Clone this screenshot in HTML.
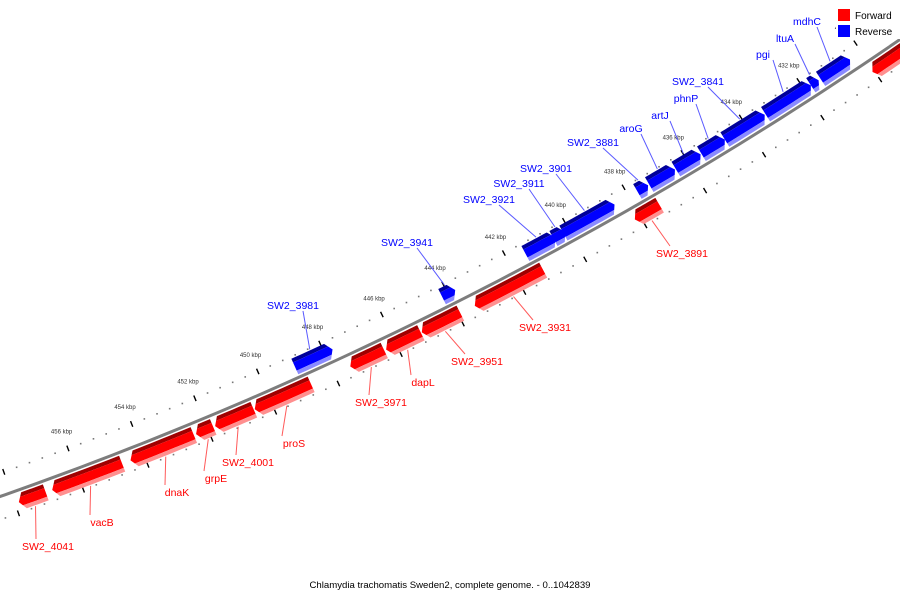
<!DOCTYPE html>
<html><head><meta charset="utf-8"><style>
html,body{margin:0;padding:0;background:#fff;}
svg{display:block;font-family:"Liberation Sans","DejaVu Sans",sans-serif;}
</style></head><body>
<svg id="map" width="900" height="600" viewBox="0 0 900 600" xmlns="http://www.w3.org/2000/svg">
<rect width="900" height="600" fill="#fff"/>
<g id="ticks"></g>
<g id="backbone"></g>
<g id="genes"></g>
<g id="labels"></g>
<g>
<rect x="836" y="7" width="64" height="32" fill="#fff"/>
<g>
<rect x="838" y="9" width="12" height="12" fill="#ff0000"/>
<text x="855" y="19" font-size="10" fill="#000">Forward</text>
</g>
<g>
<rect x="838" y="25" width="12" height="12" fill="#0000ff"/>
<text x="855" y="35" font-size="10" fill="#000">Reverse</text>
</g>
</g>
<text x="450" y="588" font-size="9.6" text-anchor="middle" fill="#000">Chlamydia trachomatis Sweden2, complete genome. - 0..1042839</text>
</svg>
<script>
// ---- data (kbp) ----
const fwdNames = ["SW2_4041","vacB","dnaK","grpE","SW2_4001","proS","SW2_3971","dapL","SW2_3951","SW2_3931","SW2_3891",""];
const fwdStart = [457.05,454.68,452.44,451.83,450.55,448.73,446.39,445.21,443.93,441.22,437.35,428.0];
const fwdEnd   = [457.88,456.85,454.42,452.37,451.77,450.52,447.48,446.33,445.18,443.46,438.18,430.06];
const revNames = ["SW2_3981","SW2_3941","SW2_3921","SW2_3911","SW2_3901","SW2_3881","aroG","artJ","phnP","SW2_3841","pgi","ltuA","mdhC"];
const revStart = [447.74,443.76,440.45,440.12,438.48,437.35,436.44,435.57,434.74,433.37,431.77,431.50,430.40];
const revEnd   = [448.95,444.19,441.45,440.52,440.19,437.71,437.31,436.41,435.54,434.74,433.34,431.77,431.43];
const tickLabelKbp = [456,454,452,450,448,446,444,442,440,438,436,434,432,430];

// ---- layout (pixel positions of label text: x, baseline y) ----
const fwdLabelPos = [[48,550],[102,526],[177,496],[216,482],[248,466],[294,447],[381,406],[423,386],[477,365],[545,331],[682,257],null];
const revLabelPos = [[293,309],[407,246],[489,203],[519,187],[546,172],[593,146],[631,132],[660,119],[686,102],[698,85],[763,58],[785,42],[807,25]];

const NS="http://www.w3.org/2000/svg";
const cx=-1265, cy=-3109, R=3821;
function ang(k){return (69.46+(k-456)*0.515)*Math.PI/180;}
function pt(k,r){const a=ang(k);return [cx+r*Math.cos(a), cy+r*Math.sin(a)];}
function arc(k1,k2,r,n){const o=[];for(let i=0;i<=n;i++){o.push(pt(k1+(k2-k1)*i/n,r));}return o;}
function poly(points){return points.map(p=>p[0].toFixed(2)+","+p[1].toFixed(2)).join(" ");}
function mk(tag,attrs,parent){const e=document.createElementNS(NS,tag);for(const k in attrs)e.setAttribute(k,attrs[k]);parent.appendChild(e);return e;}

// ticks
const tg=document.getElementById('ticks');
for(let i=0;i<=85;i++){
  const k=426+i*0.4;
  const kr=Math.round(k*10)/10;
  const major=Math.abs(kr/2-Math.round(kr/2))<1e-6;
  [R-22,R+22].forEach(r=>{
    if(major){
      const a=pt(kr,r-3),b=pt(kr,r+3);
      const l=mk('line',{x1:a[0],y1:a[1],x2:b[0],y2:b[1],stroke:'#000','stroke-width':1.4},tg);
      
      
    }else{
      const p=pt(kr,r);
      const d=mk('rect',{x:p[0]-0.8,y:p[1]-0.8,width:1.6,height:1.6,fill:'#777'},tg);
      
      
    }
  });
}
tickLabelKbp.forEach(k=>{
  const p=pt(k,R-40);
  const t=mk('text',{x:p[0],y:p[1]+2,'font-size':6,'text-anchor':'middle',fill:'#333'},tg);
  t.textContent=k+" kbp";
  
  
});

// backbone
const bb=document.getElementById('backbone');
const bp=mk('polyline',{points:poly(arc(462,424,R,80)),fill:'none',stroke:'#7d7d7d','stroke-width':3},bb);



// genes
const gg=document.getElementById('genes');
const lg=document.getElementById('labels');
let gid=0;
function drawGene(s,e,forward,name,lp){
  const r1=forward?R+3:R-20, r2=forward?R+20:R-3, rm=(r1+r2)/2;
  const len=e-s, d=Math.min(0.16,len*0.5);
  let shape;
  if(forward){ // points to higher kbp
    shape=arc(s,e-d,r1,8).concat([pt(e,rm)]).concat(arc(e-d,s,r2,8));
  }else{ // points to lower kbp
    shape=arc(e,s+d,r1,8).concat([pt(s,rm)]).concat(arc(s+d,e,r2,8));
  }
  const id='c'+(gid++);
  const cp=mk('clipPath',{id:id},gg);
  mk('polygon',{points:poly(shape)},cp);
  const g=mk('g',{'clip-path':'url(#'+id+')'},gg);
  
  
  const inner=Math.min(r1,r2);
  const cols=forward?['#a00000','#ff0000','#ff8f8f']:['#00009a','#0000ff','#8a8aff'];
  const bands=[[inner-1,inner+4],[inner+4,inner+13],[inner+13,inner+18]];
  bands.forEach((b,i)=>{
    const pts=arc(s-0.2,e+0.2,b[0],8).concat(arc(e+0.2,s-0.2,b[1],8));
    const p=mk('polygon',{points:poly(pts),fill:cols[i]},g);
    
    
  });
  if(name&&lp){
    const mid=(s+e)/2;
    const a=pt(mid,forward?R+21:R-21);
    const tx=lp[0], ty=lp[1];
    const ex=forward? tx-12 : tx+10;
    const ey=forward? ty-11 : ty+2;
    const l=mk('line',{x1:a[0],y1:a[1],x2:ex,y2:ey,stroke:forward?'#ff5a5a':'#5a5aff','stroke-width':1},lg);
    
    
    const t=mk('text',{x:tx,y:ty,'font-size':10.5,'text-anchor':'middle',fill:forward?'#ff0000':'#0000ff'},lg);
    t.textContent=name;
    
    
  }
}
fwdStart.forEach((s,i)=>drawGene(s,fwdEnd[i],true,fwdNames[i],fwdLabelPos[i]));
revStart.forEach((s,i)=>drawGene(s,revEnd[i],false,revNames[i],revLabelPos[i]));
</script>
</body></html>
